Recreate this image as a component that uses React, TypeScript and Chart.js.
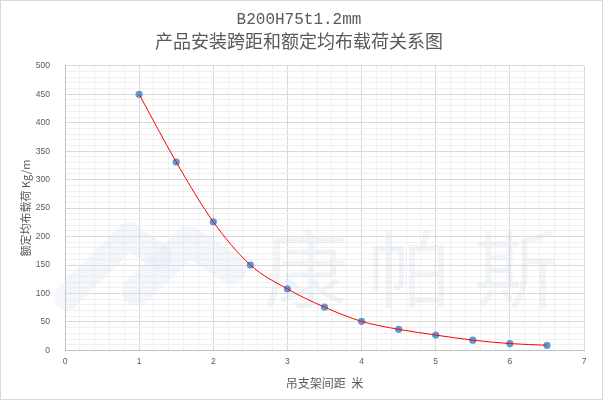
import React, { useEffect, useRef } from "react";
import { Chart, registerables } from "chart.js";

Chart.register(...registerables);

const spanMeters = [1, 1.5, 2, 2.5, 3, 3.5, 4, 4.5, 5, 5.5, 6, 6.5];
const loadKgPerM = [450, 331, 226, 150, 108, 76, 51, 37, 27, 18, 12, 9];

const titleLine1 = "B200H75t1.2mm";
const titleLine2 = "产品安装跨距和额定均布载荷关系图";
const xTitle = "吊支架间距  米";
const yTitle = "额定均布载荷 Kg/m";
const watermarkChars = ["康", "帕", "斯"];

const watermarkPlugin = {
  id: "watermark",
  beforeDatasetsDraw(chart: any) {
    const ctx = chart.ctx as CanvasRenderingContext2D;
    ctx.save();
    ctx.strokeStyle = "rgba(215,228,242,0.3)";
    ctx.lineCap = "round";
    ctx.lineJoin = "round";
    ctx.lineWidth = 26;
    ctx.beginPath();
    ctx.moveTo(66, 296);
    ctx.lineTo(128, 234);
    ctx.lineTo(158, 256);
    ctx.stroke();
    ctx.lineWidth = 30;
    ctx.beginPath();
    ctx.moveTo(136, 290);
    ctx.lineTo(188, 240);
    ctx.lineTo(230, 268);
    ctx.stroke();
    ctx.fillStyle = "rgba(205,215,228,0.25)";
    ctx.font = "84px 'Noto Sans CJK SC'";
    ctx.textAlign = "center";
    ctx.textBaseline = "middle";
    const xs = [305, 409, 515];
    watermarkChars.forEach((c, i) => ctx.fillText(c, xs[i], 268));
    ctx.restore();
  },
};

const isInt = (v: number) => Math.abs(v - Math.round(v)) < 1e-6;

export default function App() {
  const ref = useRef<HTMLCanvasElement | null>(null);
  useEffect(() => {
    if (!ref.current) return;
    const pts = spanMeters.map((x, i) => ({ x, y: loadKgPerM[i] }));
    const chart = new Chart(ref.current, {
      type: "scatter",
      data: {
        datasets: [
          {
            type: "line",
            data: pts,
            borderColor: "#ff0000",
            borderWidth: 1,
            pointRadius: 0,
            cubicInterpolationMode: "monotone",
            fill: false,
            order: 0,
          } as any,
          {
            data: pts,
            backgroundColor: "#5b9bd5",
            borderColor: "#5b9bd5",
            pointRadius: 3.6,
            borderWidth: 0,
            order: 1,
          },
        ],
      },
      options: {
        responsive: false,
        animation: false,
        layout: { padding: { left: 13, right: 18, top: 0, bottom: 4 } },
        plugins: {
          legend: { display: false },
          tooltip: { enabled: false },
          title: {
            display: true,
            text: titleLine1,
            color: "#595959",
            font: { family: "'Liberation Mono'", size: 16, weight: "normal" },
            padding: { top: 9, bottom: 0 },
          },
          subtitle: {
            display: true,
            text: titleLine2,
            color: "#595959",
            font: { family: "'Noto Sans CJK SC'", size: 18, weight: "normal" },
            padding: { top: 1, bottom: 14 },
          },
        },
        scales: {
          x: {
            type: "linear",
            min: 0,
            max: 7,
            border: { color: "#bfbfbf" },
            grid: {
              drawTicks: false,
              color: (c: any) => (isInt(c.tick.value) ? "#d9d9d9" : "#f0f0f0"),
            },
            ticks: {
              stepSize: 0.2,
              autoSkip: false,
              maxRotation: 0,
              padding: 6,
              color: "#595959",
              font: { family: "'Liberation Sans'", size: 8.5 },
              callback: (v: any) => (isInt(Number(v)) ? String(Math.round(Number(v))) : ""),
            },
            title: {
              display: true,
              text: xTitle,
              color: "#595959",
              font: { family: "'Noto Sans CJK SC'", size: 12 },
              padding: { top: 4, bottom: 4 },
            },
          },
          y: {
            type: "linear",
            min: 0,
            max: 500,
            border: { color: "#bfbfbf" },
            afterFit: (s: any) => {
              s.width = 51;
            },
            grid: {
              drawTicks: false,
              color: (c: any) => (Math.round(c.tick.value) % 50 === 0 ? "#d9d9d9" : "#f0f0f0"),
            },
            ticks: {
              stepSize: 10,
              autoSkip: false,
              padding: 15,
              color: "#595959",
              font: { family: "'Liberation Sans'", size: 8.5 },
              callback: (v: any) => (Math.round(Number(v)) % 50 === 0 ? String(Math.round(Number(v))) : ""),
            },
            title: {
              display: true,
              text: yTitle,
              color: "#595959",
              font: { family: "'Noto Sans CJK SC'", size: 11 },
              padding: { top: 5, bottom: 4 },
            },
          },
        },
      },
      plugins: [watermarkPlugin],
    });
    return () => chart.destroy();
  }, []);
  return (
    <div
      style={{
        position: "fixed",
        left: 0,
        top: 0,
        width: 603,
        height: 400,
        boxSizing: "border-box",
        border: "1px solid #d9d9d9",
        background: "#fff",
      }}
    >
      <canvas ref={ref} width={601} height={398} style={{ display: "block" }} />
    </div>
  );
}
